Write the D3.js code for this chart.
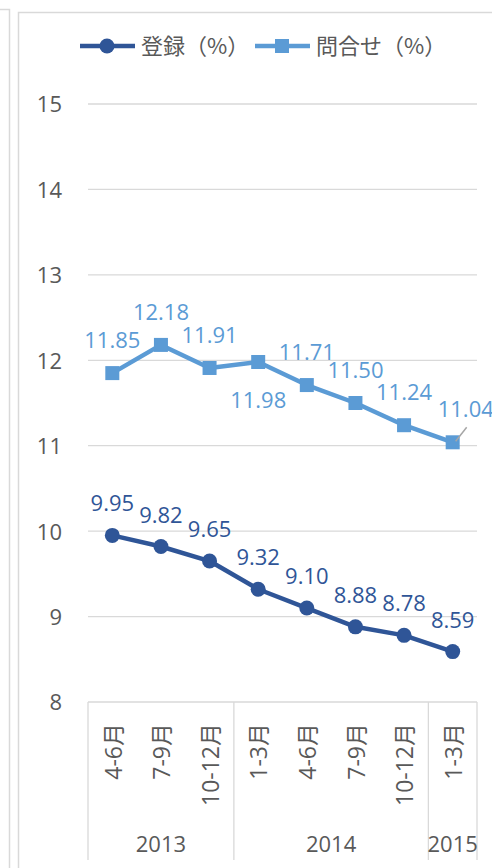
<!DOCTYPE html>
<html>
<head>
<meta charset="utf-8">
<script src="https://cdn.jsdelivr.net/npm/d3@7"></script>
<style>
html,body{margin:0;padding:0;background:#fff;}
svg{display:block;}
</style>
</head>
<body>
<svg id="chart" width="492" height="868"></svg>
<script>
const categories = ["4-6月","7-9月","10-12月","1-3月","4-6月","7-9月","10-12月","1-3月"];
const years = ["2013","2013","2013","2014","2014","2014","2014","2015"];
const seriesNames = ["登録（%）","問合せ（%）"];
const touroku = [9.95, 9.82, 9.65, 9.32, 9.10, 8.88, 8.78, 8.59];
const toiawase = [11.85, 12.18, 11.91, 11.98, 11.71, 11.50, 11.24, 11.04];
const toiawasePlacement = ["above","above","above","below","above","above","above","callout"];
const yTicks = [8, 9, 10, 11, 12, 13, 14, 15];

const darkBlue = "#2F5597", lightBlue = "#5B9BD5";
const textGray = "#595959", gridGray = "#D9D9D9";
const font = "'Open Sans', 'Noto Sans CJK JP', sans-serif";
const cjkFont = "'Noto Sans CJK JP', 'Open Sans', sans-serif";

const svg = d3.select("#chart");

// outer frames
svg.append("path").attr("d","M0,9.5 H9.5 V868").attr("fill","none").attr("stroke",gridGray).attr("stroke-width",1.5);
svg.append("path").attr("d","M18.5,868 V12.5 H492").attr("fill","none").attr("stroke",gridGray).attr("stroke-width",1.5);

const x = d3.scaleBand().domain(d3.range(categories.length)).range([88, 477]);
const y = d3.scaleLinear().domain([8, 15]).range([702, 104]);
const cx = i => x(i) + x.bandwidth() / 2;

// gridlines
svg.append("g").selectAll("line").data(yTicks).join("line")
  .attr("x1", 88).attr("x2", 477)
  .attr("y1", d => y(d)).attr("y2", d => y(d))
  .attr("stroke", gridGray).attr("stroke-width", 1.3);

// y axis labels
const yAxis = d3.axisLeft(y).tickValues(yTicks).tickFormat(d3.format("d")).tickSize(0).tickPadding(0);
const gy = svg.append("g").attr("transform", "translate(62,0)").call(yAxis);
gy.select(".domain").remove();
gy.selectAll("text").attr("font-family", font).attr("font-size", 22)
  .attr("fill", textGray).attr("dy", "0.36em");

// category axis: rotated labels
svg.append("g").selectAll("text").data(categories).join("text")
  .attr("transform", (d, i) => `translate(${cx(i) + 1},723) rotate(-90)`)
  .attr("text-anchor", "end").attr("dy", "0.36em")
  .attr("font-family", font).attr("font-size", 23).attr("fill", textGray)
  .text(d => d);

// year groups
const groups = [];
years.forEach((yr, i) => {
  const g = groups.find(g => g.year === yr);
  if (g) g.end = i; else groups.push({ year: yr, start: i, end: i });
});
const seps = [x(0)].concat(groups.map(g => x(g.end) + x.bandwidth()));
svg.append("g").selectAll("line").data(seps).join("line")
  .attr("x1", d => d).attr("x2", d => d).attr("y1", 702).attr("y2", 860)
  .attr("stroke", gridGray).attr("stroke-width", 1.3);
svg.append("g").selectAll("text").data(groups).join("text")
  .attr("x", g => (x(g.start) + x(g.end) + x.bandwidth()) / 2)
  .attr("y", 852).attr("text-anchor", "middle")
  .attr("font-family", font).attr("font-size", 22).attr("fill", textGray)
  .text(g => g.year);

const line = d3.line().x((d, i) => cx(i)).y(d => y(d));

// light series
svg.append("path").datum(toiawase).attr("d", line)
  .attr("fill", "none").attr("stroke", lightBlue).attr("stroke-width", 4.5).attr("stroke-linejoin", "round");
svg.append("g").selectAll("rect").data(toiawase).join("rect")
  .attr("x", (d, i) => cx(i) - 7).attr("y", d => y(d) - 7)
  .attr("width", 14).attr("height", 14).attr("fill", lightBlue);

// dark series
svg.append("path").datum(touroku).attr("d", line)
  .attr("fill", "none").attr("stroke", darkBlue).attr("stroke-width", 4.5).attr("stroke-linejoin", "round");
svg.append("g").selectAll("circle").data(touroku).join("circle")
  .attr("cx", (d, i) => cx(i)).attr("cy", d => y(d)).attr("r", 7.5).attr("fill", darkBlue);

// data labels dark
svg.append("g").selectAll("text").data(touroku).join("text")
  .attr("x", (d, i) => cx(i)).attr("y", d => y(d) - 24)
  .attr("text-anchor", "middle").attr("font-family", font).attr("font-size", 22)
  .attr("fill", darkBlue).text(d => d.toFixed(2));

// callout leader line
toiawase.forEach((d, i) => {
  if (toiawasePlacement[i] === "callout") {
    svg.append("line").attr("x1", cx(i) + 3).attr("y1", y(d) - 1)
      .attr("x2", cx(i) + 14).attr("y2", y(d) - 15)
      .attr("stroke", "#A6A6A6").attr("stroke-width", 1.5);
  }
});

// data labels light
svg.append("g").selectAll("text").data(toiawase).join("text")
  .attr("x", (d, i) => toiawasePlacement[i] === "callout" ? cx(i) - 15 : cx(i))
  .attr("y", (d, i) => {
    const p = toiawasePlacement[i];
    if (p === "below") return y(d) + 46;
    return y(d) - 25;
  })
  .attr("text-anchor", (d, i) => toiawasePlacement[i] === "callout" ? "start" : "middle")
  .attr("font-family", font).attr("font-size", 22)
  .attr("fill", lightBlue).text(d => d.toFixed(2));

// legend
const legend = [
  { name: seriesNames[0], color: darkBlue, shape: "circle", x0: 80 },
  { name: seriesNames[1], color: lightBlue, shape: "square", x0: 255 }
];
legend.forEach(l => {
  const g = svg.append("g");
  g.append("line").attr("x1", l.x0).attr("x2", l.x0 + 55).attr("y1", 46).attr("y2", 46)
    .attr("stroke", l.color).attr("stroke-width", 4.5);
  if (l.shape === "circle") g.append("circle").attr("cx", l.x0 + 27).attr("cy", 46).attr("r", 7.5).attr("fill", l.color);
  else g.append("rect").attr("x", l.x0 + 20).attr("y", 39).attr("width", 14).attr("height", 14).attr("fill", l.color);
  g.append("text").attr("x", l.x0 + 61).attr("y", 54)
    .attr("font-family", cjkFont).attr("font-size", 22).attr("fill", textGray).text(l.name);
});
</script>
</body>
</html>
